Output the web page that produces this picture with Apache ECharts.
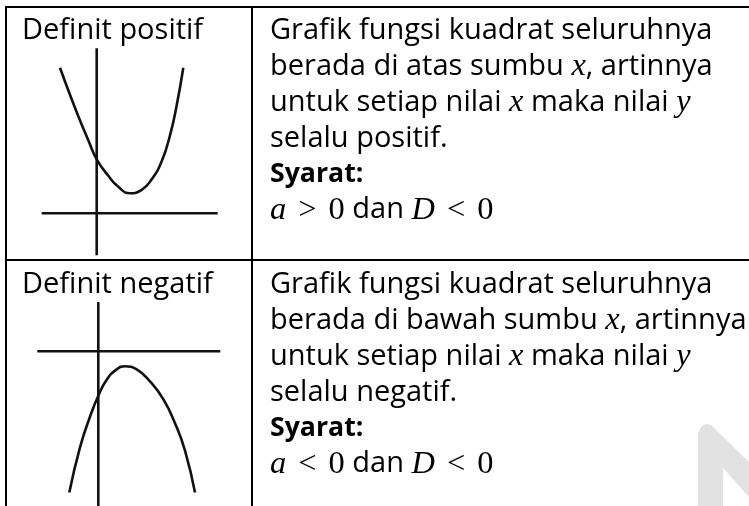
<!DOCTYPE html>
<html>
<head>
<meta charset="utf-8">
<script src="https://cdn.jsdelivr.net/npm/echarts@6/dist/echarts.min.js"></script>
<style>
html,body{margin:0;padding:0;background:#fff;}
#chart{width:749px;height:506px;}
</style>
</head>
<body>
<div id="chart"></div>
<script>
// ---- data (sketch units, origin at the sketch's axis crossing) ----
const rowLabels = ['Definit positif', 'Definit negatif'];

const positiveCurve = [
  [-3.67, 14.56], [-2.84, 12.3], [-1.84, 9.7], [-0.84, 7.3], [0, 5.4],
  [1.16, 3.75], [2.16, 2.65], [3.33, 2.0], [4.5, 2.35], [5.5, 3.4],
  [6.5, 5.2], [7.33, 7.8], [8.0, 10.8], [8.66, 14.56]
];
const positiveXAxis = [[-5.5, 0], [12.1, 0]];
const positiveYAxis = [[0, -4.2], [0, 16.5]];

const negativeCurve = [
  [-2.9, -14.6], [-1.83, -9.94], [-0.83, -6.77], [0, -4.6], [0.84, -2.94],
  [1.84, -1.87], [2.67, -1.54], [3.84, -1.87], [5.17, -3.1], [6.5, -4.94],
  [7.67, -7.44], [8.67, -10.27], [9.67, -14.6]
];
const negativeXAxis = [[-6.1, 0], [12.2, 0]];
const negativeYAxis = [[0, -16], [0, 5.1]];

const positiveText = [
  'Grafik fungsi kuadrat seluruhnya',
  'berada di atas sumbu {m|x}, artinnya',
  'untuk setiap nilai {m|x} maka nilai {m|y}',
  'selalu positif.',
  '{b|Syarat:}',
  '{m|a}{o|>}{r|0} dan {m|D}{o|<}{r|0}'
];
const negativeText = [
  'Grafik fungsi kuadrat seluruhnya',
  'berada di bawah sumbu {m|x}, artinnya',
  'untuk setiap nilai {m|x} maka nilai {m|y}',
  'selalu negatif.',
  '{b|Syarat:}',
  '{m|a}{o|<}{r|0} dan {m|D}{o|<}{r|0}'
];

// ---- layout ----
const FONT = '"Open Sans", "Noto Sans", sans-serif';
const MATH = '"Liberation Serif", "DejaVu Serif", serif';

// fit body font size so the first text line is close to the reference width
const ctx = document.createElement('canvas').getContext('2d');
ctx.font = '30px "Open Sans"';
const FS = Math.round(30 * 442 / ctx.measureText('Grafik fungsi kuadrat seluruhnya').width * 10) / 10;
const MS = FS * 1.12;

const rich = {
  m: { fontFamily: MATH, fontStyle: 'italic', fontSize: MS, fill: '#000' },
  r: { fontFamily: MATH, fontSize: MS, fill: '#000' },
  o: { fontFamily: MATH, fontSize: MS, fill: '#000', padding: [0, 12, 0, 12] },
  b: { fontFamily: FONT, fontWeight: 'bold', fontSize: FS * 0.92, fill: '#000' }
};

const chart = echarts.init(document.getElementById('chart'), null, { renderer: 'canvas' });

const graphic = [];
function line(x1, y1, x2, y2) {
  graphic.push({ type: 'line', shape: { x1, y1, x2, y2 }, style: { stroke: '#000', lineWidth: 2 }, z: 10 });
}
line(6, 7, 749, 7);
line(6, 260, 749, 260);
line(6, 6, 6, 506);
line(252, 6, 252, 506);

function text(str, x, center) {
  graphic.push({
    type: 'text',
    style: {
      text: str, x: x, y: center,
      fontFamily: FONT, fontSize: FS, fill: '#000',
      verticalAlign: 'middle', align: 'left', rich: rich
    },
    z: 10
  });
}
text(rowLabels[0], 22, 31);
text(rowLabels[1], 22, 285);
const lineGap = 35.8;
positiveText.forEach((s, i) => text(s, 270, 31 + i * lineGap));
negativeText.forEach((s, i) => text(s, 270, 285 + i * lineGap));

// faint watermark shape at bottom right
graphic.push({
  type: 'polygon',
  shape: { points: [[698, 506], [698, 433], [701, 427], [706, 424], [711, 425], [749, 462], [749, 497], [723, 468], [723, 506]] },
  style: { fill: '#e2e2e2' },
  z: 1
});

const hiddenAxis = (min, max, idx) => ({
  type: 'value', min: min, max: max, gridIndex: idx,
  show: false, splitLine: { show: false }
});
const lineStyle = { color: '#111', width: 2.6 };
const mkSeries = (data, idx, smooth) => ({
  type: 'line', data: data, xAxisIndex: idx, yAxisIndex: idx,
  smooth: smooth, symbol: 'none', lineStyle: lineStyle, silent: true, animation: false
});

chart.setOption({
  animation: false,
  backgroundColor: '#fff',
  grid: [
    { left: 36.7, top: 43.3, width: 190, height: 220 },
    { left: 38.3, top: 293.3, width: 190, height: 220 }
  ],
  xAxis: [hiddenAxis(-6, 13, 0), hiddenAxis(-6, 13, 1)],
  yAxis: [hiddenAxis(-5, 17, 0), hiddenAxis(-16, 6, 1)],
  series: [
    mkSeries(positiveXAxis, 0, false),
    mkSeries(positiveYAxis, 0, false),
    mkSeries(positiveCurve, 0, 0.5),
    mkSeries(negativeXAxis, 1, false),
    mkSeries(negativeYAxis, 1, false),
    mkSeries(negativeCurve, 1, 0.5)
  ],
  graphic: graphic
});
</script>
</body>
</html>
